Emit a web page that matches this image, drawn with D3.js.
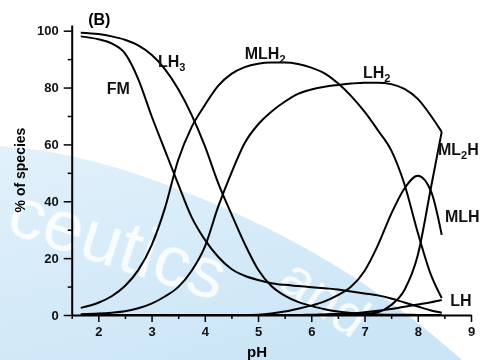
<!DOCTYPE html>
<html>
<head>
<meta charset="utf-8">
<script src="https://cdn.jsdelivr.net/npm/d3@7"></script>
<style>
  html, body { margin: 0; padding: 0; background: #fff; }
  svg { display: block; font-family: "Liberation Sans", Arial, Helvetica, sans-serif; }
</style>
</head>
<body>
<svg id="chart" width="483" height="360"></svg>
<script>
// pH grid shared by every species
const ph = [1.67, 2.0, 2.25, 2.5, 2.75, 3.0, 3.25, 3.5, 3.75, 4.0, 4.25, 4.5, 4.75, 5.0,
  5.25, 5.5, 5.75, 6.0, 6.25, 6.5, 6.75, 7.0, 7.25, 7.5, 7.75, 8.0, 8.25, 8.45];

// % of species
const fm   = [98, 97, 95.5, 92, 83, 70, 58, 46, 34.5, 26.5, 20.5, 16.2, 13.8, 12.3,
  11.2, 10.6, 10.2, 9.8, 9.4, 9.0, 8.3, 7.6, 6.9, 5.8, 4.4, 3.0, 1.6, 0.8];
const lh3  = [99.3, 98.8, 98, 96.8, 94.8, 91.5, 86.5, 79.5, 70.5, 59.5, 46.5, 35.5, 25, 16,
  10.2, 6.8, 4.6, 3.2, 2.0, 1.2, 0.7, 0.4, 0.2, 0.1, 0.1, 0, 0, 0];
const mlh2 = [2.5, 4.3, 6.6, 10.2, 15.8, 24.5, 37.5, 54.5, 66, 73.8, 80.6, 84.8, 87.2, 88.4,
  88.8, 88.8, 88.3, 87, 85, 81.5, 77, 71.5, 65, 58, 46, 29, 14, 6];
const lh2  = [0.3, 0.5, 0.8, 1.3, 2.4, 4, 6.5, 9.8, 15.5, 24, 38, 50, 60.5, 67,
  71.5, 75, 77.8, 79.3, 80.3, 80.9, 81.4, 81.7, 81.7, 81.2, 79.5, 76, 70, 64.4];
const mlh  = [0, 0, 0, 0, 0, 0, 0, 0, 0, 0, 0, 0, 0, 0.1,
  0.5, 1.2, 2.2, 3.3, 4.8, 7.0, 10, 15.5, 24.5, 35.5, 44.5, 49, 43.5, 28.2];
const ml2h = [0, 0, 0, 0, 0, 0, 0, 0, 0, 0, 0, 0, 0, 0,
  0, 0, 0, 0, 0.1, 0.2, 0.3, 0.4, 1.0, 3.5, 8.8, 21, 45, 64.4];
const lh   = [0, 0, 0, 0, 0, 0, 0, 0, 0, 0, 0, 0, 0, 0,
  0, 0, 0, 0.1, 0.2, 0.4, 0.6, 1.0, 1.5, 2.1, 2.9, 3.7, 4.5, 5.3];

const xTicks = [2, 3, 4, 5, 6, 7, 8, 9];
const xMinor = [1.5, 2.5, 3.5, 4.5, 5.5, 6.5, 7.5, 8.5];
const yTicks = [0, 20, 40, 60, 80, 100];
const yMinor = [10, 30, 50, 70, 90];

// curve labels: main text, subscript, trailing text, anchor (pH, %)
const labels = [
  ['FM', '', '', 2.16, 77.7],
  ['LH', '3', '', 3.12, 87.2],
  ['MLH', '2', '', 4.75, 90.0],
  ['LH', '2', '', 6.97, 83.4],
  ['ML', '2', 'H', 8.38, 56.3],
  ['MLH', '', '', 8.51, 32.7],
  ['LH', '', '', 8.61, 3.2]
];

const series = [fm, lh3, mlh2, lh2, mlh, ml2h, lh];

const svg = d3.select('#chart');
const x = d3.scaleLinear().domain([1.5, 9]).range([71.7, 471]);
const y = d3.scaleLinear().domain([0, 102]).range([315, 25]);

// watermark in the background
const defs = svg.append('defs');
const grad = defs.append('linearGradient').attr('id', 'wm')
  .attr('x1', '0').attr('y1', '0').attr('x2', '0.6').attr('y2', '1');
grad.append('stop').attr('offset', '0%').attr('stop-color', '#e2f1fb');
grad.append('stop').attr('offset', '100%').attr('stop-color', '#cbe5f6');

svg.append('path')
  .attr('d', 'M0,146 C60,150 120,165 200,198 C285,232 375,282 462,360 L0,360 Z')
  .attr('fill', 'url(#wm)');

const wm = svg.append('g')
  .attr('fill', '#ffffff')
  .attr('opacity', 0.85);
wm.append('text')
  .attr('font-size', 72)
  .attr('transform', 'translate(4,232) rotate(18)')
  .text('ceutics');
wm.append('text')
  .attr('font-size', 56)
  .attr('transform', 'translate(276,286) rotate(35)')
  .text('and');

// axes
svg.append('g')
  .attr('transform', `translate(0,${y(0)})`)
  .call(d3.axisBottom(x).tickValues(xTicks).tickSize(7).tickSizeOuter(0).tickPadding(5));
svg.append('g')
  .attr('transform', `translate(0,${y(0)})`)
  .call(d3.axisBottom(x).tickValues(xMinor).tickSize(4).tickFormat(''))
  .call(g => g.select('.domain').remove());

svg.append('g')
  .attr('transform', `translate(${x(1.5)},0)`)
  .call(d3.axisLeft(y).tickValues(yTicks).tickSize(8).tickSizeOuter(0).tickPadding(5));
svg.append('g')
  .attr('transform', `translate(${x(1.5)},0)`)
  .call(d3.axisLeft(y).tickValues(yMinor).tickSize(4).tickFormat(''))
  .call(g => g.select('.domain').remove());

svg.selectAll('.domain').attr('stroke', '#000').attr('stroke-width', 2);
svg.selectAll('.tick line').attr('stroke', '#000').attr('stroke-width', 1.5);
svg.selectAll('.tick text')
  .attr('font-family', '"Liberation Sans", Arial, sans-serif')
  .attr('font-size', 13)
  .attr('font-weight', 'bold')
  .attr('fill', '#111');

// axis titles
svg.append('text')
  .attr('x', 257).attr('y', 357)
  .attr('text-anchor', 'middle')
  .attr('font-size', 15).attr('font-weight', 'bold')
  .text('pH');
svg.append('text')
  .attr('transform', 'translate(25,170) rotate(-90)')
  .attr('text-anchor', 'middle')
  .attr('font-size', 14).attr('font-weight', 'bold')
  .text('% of species');

// species curves
const line = d3.line()
  .x((d, i) => x(ph[i]))
  .y(d => y(d))
  .curve(d3.curveMonotoneX);

svg.append('g')
  .selectAll('path')
  .data(series)
  .enter()
  .append('path')
  .attr('d', line)
  .attr('fill', 'none')
  .attr('stroke', '#000')
  .attr('stroke-width', 2);

// panel tag
svg.append('text')
  .attr('x', x(1.81)).attr('y', y(102))
  .attr('font-size', 16).attr('font-weight', 'bold')
  .text('(B)');

// curve labels
const lab = svg.append('g')
  .selectAll('text')
  .data(labels)
  .enter()
  .append('text')
  .attr('x', d => x(d[3]))
  .attr('y', d => y(d[4]))
  .attr('font-size', 16)
  .attr('font-weight', 'bold')
  .attr('fill', '#111');
lab.append('tspan').text(d => d[0]);
lab.filter(d => d[1]).append('tspan')
  .attr('font-size', 11).attr('dy', 4)
  .text(d => d[1]);
lab.filter(d => d[2]).append('tspan')
  .attr('dy', -4)
  .text(d => d[2]);
</script>
</body>
</html>
